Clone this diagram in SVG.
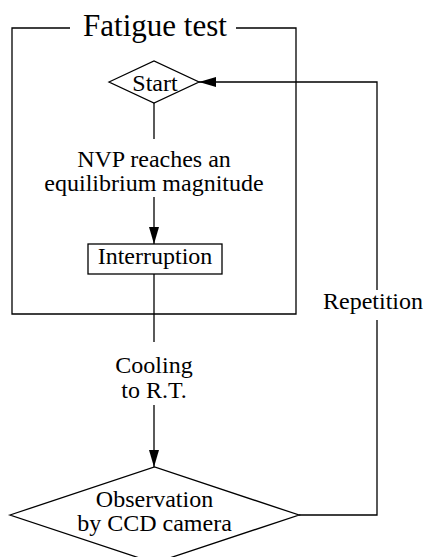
<svg xmlns="http://www.w3.org/2000/svg" width="425" height="557" viewBox="0 0 425 557">
<style>
text{font-family:"Liberation Serif","Times New Roman",serif;font-size:24px;fill:#000;text-anchor:middle}
.s{fill:none;stroke:#000;stroke-width:1.3}
.n{fill:#fff;stroke:#000;stroke-width:1.3}
</style>
<defs>
<marker id="ah" markerWidth="17" markerHeight="10" refX="17" refY="5" orient="auto" markerUnits="userSpaceOnUse">
<path d="M0,0 L17,5 L0,10 Z" fill="#000"/>
</marker>
</defs>
<g id="frame">
<path class="s" d="M70,28 H12 V314 H296 V28 H236"/>
<text x="155" y="36" style="font-size:31px">Fatigue test</text>
</g>
<g id="connectors">
<path class="s" d="M154,102 V139"/>
<path class="s" d="M154,197 V244" marker-end="url(#ah)"/>
<path class="s" d="M154,274 V342"/>
<path class="s" d="M154,405 V467" marker-end="url(#ah)"/>
<path class="s" d="M299,515 H377 V320"/>
<path class="s" d="M377,290 V82 H199" marker-end="url(#ah)"/>
<text x="154" y="167">NVP reaches an</text>
<text x="154" y="191">equilibrium magnitude</text>
<text x="154" y="373">Cooling</text>
<text x="154" y="398">to R.T.</text>
<text x="373" y="309">Repetition</text>
</g>
<g id="start">
<path class="n" d="M109,82 L154,61 L199,82 L154,103 Z"/>
<text x="155" y="91">Start</text>
</g>
<g id="interruption">
<rect class="n" x="88" y="244" width="134" height="30"/>
<text x="155" y="264">Interruption</text>
</g>
<g id="observation">
<path class="n" d="M10,515 L154.5,467 L299,515 L154.5,563 Z"/>
<text x="154.5" y="507">Observation</text>
<text x="154.5" y="531">by CCD camera</text>
</g>
</svg>
